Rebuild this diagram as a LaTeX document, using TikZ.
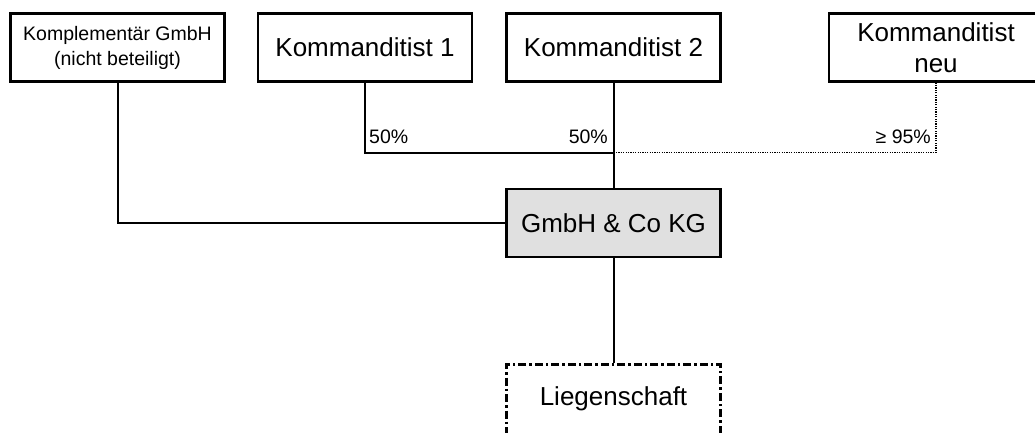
\documentclass[tikz,border=0pt]{standalone}
\usepackage{fontspec}
\setmainfont{Liberation Sans}
\definecolor{kgfill}{HTML}{E0E0E0}
\begin{document}
\begin{tikzpicture}[x=1pt,y=-1pt,
  box/.style={draw=black,line width=2.2pt,minimum width=214pt,minimum height=68pt,
    inner sep=0pt,align=center,font=\fontsize{26}{31}\selectfont},
  smallbox/.style={box,font=\fontsize{19.5}{25}\selectfont},
  share/.style={inner sep=0pt,font=\fontsize{19.5}{23}\selectfont},
  link/.style={line width=2pt},
  newlink/.style={line width=1.2pt,dash pattern=on 1.3pt off 1.1pt},
  plot/.style={draw=black,line width=3pt,dash pattern=on 8pt off 3pt on 2.5pt off 3pt,
    minimum width=214pt,minimum height=70pt,inner sep=0pt,font=\fontsize{26}{31}\selectfont}]
\clip (0,0) rectangle (1035,432);
% partners
\node[smallbox] (kompl) at (117.5,47.5) {Komplementär GmbH\\(nicht beteiligt)};
\node[box] (k1) at (365,47.5) {Kommanditist 1};
\node[box] (k2) at (613.5,47.5) {Kommanditist 2};
\node[box] (kneu) at (936,47.5) {Kommanditist\\neu};
% partnership and property
\node[box,fill=kgfill] (kg) at (613.5,223) {GmbH \& Co KG};
\node[plot] (lieg) at (613.5,399) {Liegenschaft};
% connectors
\coordinate (j) at (613.5,152.5);
\draw[newlink] (j) -| (kneu.south);
\draw[link] (kompl.south) |- (kg.west);
\draw[link] (k1.south) |- (j);
\draw[link] (k2.south) -- (kg.north);
\draw[link] (kg.south) -- (lieg.north);
% shares
\node[share,anchor=base west] (s1) at (369,143) {50\%};
\node[share,anchor=base east] (s2) at (608,143) {50\%};
\node[share,anchor=base east] (s3) at (931,143) {≥ 95\%};
\end{tikzpicture}
\end{document}
